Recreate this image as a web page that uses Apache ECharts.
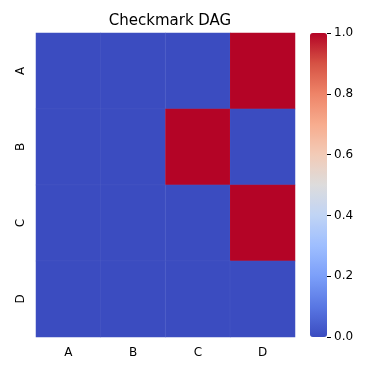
<!DOCTYPE html>
<html>
<head>
    <meta charset="utf-8" />
    <title>Checkmark DAG</title>
    <script src="https://cdn.jsdelivr.net/npm/echarts@6/dist/echarts.min.js"></script>
    <style type="text/css">
        * { margin: 0; padding: 0 }
        html, body { background: #fff; }
        #main { width: 374px; height: 374px; }
    </style>
</head>
<body>
<div id="main"></div>
<script>
    // data
    var xCats = ['A', 'B', 'C', 'D'];
    var yCats = ['A', 'B', 'C', 'D'];
    var rowA = [0, 0, 0, 1];
    var rowB = [0, 0, 1, 0];
    var rowC = [0, 0, 0, 1];
    var rowD = [0, 0, 0, 0];
    var barTicks = [0, 0.2, 0.4, 0.6, 0.8, 1.0];

    var coolwarm = ['#3b4cc0', '#5977e3', '#7b9ff9', '#9ebeff', '#c0d4f5', '#dddcdc',
        '#f2cbb7', '#f7ac8e', '#ee8468', '#d65244', '#b40426'];

    var rows = [rowA, rowB, rowC, rowD];
    var cells = [];
    for (var r = 0; r < rows.length; r++) {
        for (var c = 0; c < rows[r].length; c++) {
            cells.push([c, r, rows[r][c]]);
        }
    }

    var font = 'DejaVu Sans';
    var chart = echarts.init(document.getElementById('main'));
    chart.setOption({
        animation: false,
        title: {
            text: 'Checkmark DAG',
            left: 165, textAlign: 'center', top: 9,
            textStyle: { fontFamily: font, fontSize: 15, fontWeight: 'normal', color: '#000' }
        },
        grid: { left: 36, top: 33, width: 259, height: 304 },
        xAxis: {
            type: 'category', data: xCats,
            axisLine: { show: false },
            axisTick: { alignWithLabel: true, length: 4, lineStyle: { color: '#000' } },
            axisLabel: { fontFamily: font, fontSize: 12, color: '#000', margin: 10 },
            splitLine: { show: false }
        },
        yAxis: [{
            type: 'category', data: yCats, inverse: true,
            axisLine: { show: false },
            axisTick: { alignWithLabel: true, length: 4, lineStyle: { color: '#000' } },
            axisLabel: { fontFamily: font, fontSize: 12, color: '#000', rotate: 90, margin: 9 },
            splitLine: { show: false }
        }, {
            // colorbar scale, drawn at the right edge of the bar
            type: 'value', position: 'right', offset: 32,
            min: barTicks[0], max: barTicks[barTicks.length - 1], interval: 0.2,
            axisLine: { show: false },
            axisTick: { show: true, length: 4, lineStyle: { color: '#000' } },
            axisLabel: {
                fontFamily: font, fontSize: 12, color: '#000', margin: 7,
                formatter: function (v) { return v.toFixed(1); }
            },
            splitLine: { show: false }
        }],
        visualMap: {
            type: 'continuous', min: 0, max: 1, calculable: false,
            seriesIndex: 0, orient: 'vertical', hoverLink: false,
            left: 310, top: 33, itemWidth: 17, itemHeight: 304,
            padding: 0, text: ['', ''], textGap: 0,
            inRange: { color: coolwarm }
        },
        series: [{
            type: 'heatmap', xAxisIndex: 0, yAxisIndex: 0,
            data: cells,
            itemStyle: { borderWidth: 0.5, borderColor: 'rgba(255,255,255,0.08)' },
            emphasis: { disabled: true }
        }]
    });
</script>
</body>
</html>
